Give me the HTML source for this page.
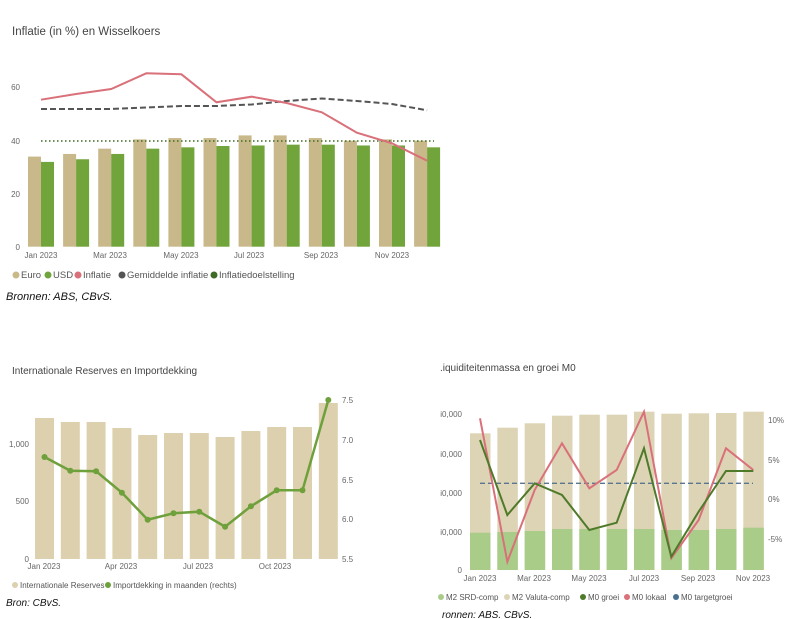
<!DOCTYPE html>
<html><head><meta charset="utf-8"><style>
html,body{margin:0;padding:0;background:#fff;width:805px;height:619px;overflow:hidden}
svg{display:block;font-family:"Liberation Sans",sans-serif}
.t{fill:#666;font-size:8px}
.ttl{fill:#444;font-size:11.5px}
.lg{fill:#555;font-size:9px}
.src{fill:#111;font-size:11px;font-style:italic}
</style></head><body>
<svg id="s" width="805" height="619" viewBox="0 0 805 619" xmlns="http://www.w3.org/2000/svg">
<text class="ttl" x="12" y="35">Inflatie (in %) en Wisselkoers</text>
<text class="t" x="20" y="90" text-anchor="end">60</text>
<text class="t" x="20" y="144" text-anchor="end">40</text>
<text class="t" x="20" y="197" text-anchor="end">20</text>
<text class="t" x="20" y="250" text-anchor="end">0</text>
<g id="c1"></g>
<g class="t" text-anchor="middle">
<text x="41" y="258">Jan 2023</text><text x="110" y="258">Mar 2023</text><text x="181" y="258">May 2023</text><text x="249" y="258">Jul 2023</text><text x="321" y="258">Sep 2023</text><text x="392" y="258">Nov 2023</text>
</g>
<g class="lg" style="font-size:9.5px">
<circle cx="16" cy="275" r="3.5" fill="#c9b98a"/><text x="21" y="278">Euro</text>
<circle cx="48" cy="275" r="3.5" fill="#72a43c"/><text x="53" y="278">USD</text>
<circle cx="78" cy="275" r="3.5" fill="#d9707a"/><text x="83" y="278">Inflatie</text>
<circle cx="122" cy="275" r="3.5" fill="#555"/><text x="127" y="278">Gemiddelde inflatie</text>
<circle cx="214" cy="275" r="3.5" fill="#3e6b25"/><text x="219" y="278">Inflatiedoelstelling</text>
</g>
<text class="src" x="6" y="300">Bronnen: ABS, CBvS.</text>

<text class="ttl" x="12" y="374" style="font-size:10px">Internationale Reserves en Importdekking</text>
<g class="t">
<text x="29" y="447" text-anchor="end">1,000</text><text x="29" y="504" text-anchor="end">500</text><text x="29" y="562" text-anchor="end">0</text>
<text x="342" y="403">7.5</text><text x="342" y="443">7.0</text><text x="342" y="483">6.5</text><text x="342" y="522">6.0</text><text x="342" y="562">5.5</text>
</g>
<g id="c2"></g>
<g class="t" text-anchor="middle"><text x="44" y="569">Jan 2023</text><text x="121" y="569">Apr 2023</text><text x="198" y="569">Jul 2023</text><text x="275" y="569">Oct 2023</text></g>
<g class="lg" style="font-size:8px">
<circle cx="15" cy="585" r="3" fill="#ddd0ae"/><text x="20" y="588">Internationale Reserves</text>
<circle cx="108" cy="585" r="3" fill="#6ea03c"/><text x="113" y="588">Importdekking in maanden (rechts)</text>
</g>
<text class="src" x="6" y="606" style="font-size:10px">Bron: CBvS.</text>

<text class="ttl" x="440" y="371" style="font-size:10px">.iquiditeitenmassa en groei M0</text>
<g class="t">
<text x="462" y="417" text-anchor="end">i0,000</text><text x="462" y="457" text-anchor="end">i0,000</text><text x="462" y="496" text-anchor="end">i0,000</text><text x="462" y="535" text-anchor="end">i0,000</text><text x="462" y="573" text-anchor="end">0</text>
<text x="768" y="423">10%</text><text x="768" y="463">5%</text><text x="768" y="502">0%</text><text x="768" y="542">-5%</text>
</g>
<g id="c3"></g>
<g class="t" text-anchor="middle"><text x="480" y="581">Jan 2023</text><text x="534" y="581">Mar 2023</text><text x="589" y="581">May 2023</text><text x="644" y="581">Jul 2023</text><text x="698" y="581">Sep 2023</text><text x="753" y="581">Nov 2023</text></g>
<g class="lg" style="font-size:8px">
<circle cx="441" cy="597" r="3" fill="#a9cc88"/><text x="446" y="600">M2 SRD-comp</text>
<circle cx="507" cy="597" r="3" fill="#ddd3b5"/><text x="512" y="600">M2 Valuta-comp</text>
<circle cx="583" cy="597" r="3" fill="#4f7a2a"/><text x="588" y="600">M0 groei</text>
<circle cx="627" cy="597" r="3" fill="#d9707a"/><text x="632" y="600">M0 lokaal</text>
<circle cx="676" cy="597" r="3" fill="#4a7090"/><text x="681" y="600">M0 targetgroei</text>
</g>
<text class="src" x="442" y="618" style="font-size:10px">ronnen: ABS. CBvS.</text>
</svg>
<script>
var NS="http://www.w3.org/2000/svg";
function el(p,n,a){var e=document.createElementNS(NS,n);for(var k in a)e.setAttribute(k,a[k]);document.getElementById(p).appendChild(e);return e;}
var y1=function(v){return 246.7-2.65*v};
var eu=[34,35,37,40.5,41,41,42,42,41,40,40.5,40], us=[32,33,35,37,37.5,38,38.2,38.5,38.5,38.2,38.2,37.5];
for(var i=0;i<12;i++){var x=28+35.1*i;
el("c1","rect",{x:x,y:y1(eu[i]),width:13,height:246.7-y1(eu[i]),fill:"#c9b98a"});
el("c1","rect",{x:x+13,y:y1(us[i]),width:13,height:246.7-y1(us[i]),fill:"#72a43c"});}
el("c1","line",{x1:41,x2:434,y1:141,y2:141,stroke:"#3e6b25","stroke-width":1.5,"stroke-dasharray":"1.5,2.5"});
var inf=[99.7,94,89,73.3,74.3,102.3,96.7,103,112.3,132.7,143.3,160.7],avg=[109,109,109,107.5,106,106,104.5,101,98.5,101,104,110.3];
var p="",q="";for(var i=0;i<12;i++){var x=41+35.1*i;p+=(i?"L":"M")+x+","+inf[i];q+=(i?"L":"M")+x+","+avg[i];}
el("c1","path",{d:q,fill:"none",stroke:"#555","stroke-width":2,"stroke-dasharray":"6,3"});
el("c1","path",{d:p,fill:"none",stroke:"#d9707a","stroke-width":2});
var t2=[418,422,422,428,435,433,433,437,431,427,427,403],l2=[457,470.7,471.3,492.7,519.7,513.3,511.7,526.7,506.3,490.3,490.3,400];
p="";for(var i=0;i<12;i++){var x=35+25.8*i;el("c2","rect",{x:x,y:t2[i],width:19,height:559-t2[i],fill:"#ddd0ae"});p+=(i?"L":"M")+(x+9.5)+","+l2[i];}
el("c2","path",{d:p,fill:"none",stroke:"#6ea03c","stroke-width":2.5});
for(var i=0;i<12;i++)el("c2","circle",{cx:44.5+25.8*i,cy:l2[i],r:3,fill:"#6ea03c"});
var tt=[433.3,427.7,423.3,415.7,414.7,414.7,411.7,413.7,413.3,413,411.7],tg=[532.7,532,531,529,529,529,529,530,530,529,527.7];
var g=[440,515,483.3,495,530,522.7,448.3,556.7,511.7,471,471],r=[418.3,561.7,490,443.3,488.3,470,411.7,558.3,520,448.3,470];
p="";q="";for(var i=0;i<11;i++){var x=470+27.33*i;
el("c3","rect",{x:x,y:tt[i],width:20.5,height:570-tt[i],fill:"#ddd3b5"});
el("c3","rect",{x:x,y:tg[i],width:20.5,height:570-tg[i],fill:"#a9cc88"});
p+=(i?"L":"M")+(x+10)+","+g[i];q+=(i?"L":"M")+(x+10)+","+r[i];}
el("c3","line",{x1:480,x2:753,y1:483.3,y2:483.3,stroke:"#5a7590","stroke-width":1.3,"stroke-dasharray":"5,3"});
el("c3","path",{d:q,fill:"none",stroke:"#d9707a","stroke-width":2});
el("c3","path",{d:p,fill:"none",stroke:"#4f7a2a","stroke-width":2});
</script>
</body></html>
